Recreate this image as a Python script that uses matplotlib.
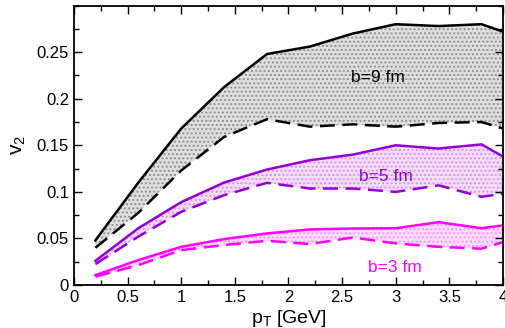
import matplotlib
matplotlib.use("Agg")
import matplotlib.pyplot as plt
from matplotlib.ticker import MultipleLocator

plt.rcParams['font.family'] = ['Liberation Sans', 'DejaVu Sans']
plt.rcParams['hatch.linewidth'] = 0.9

pt = [0.2, 0.6, 1.0, 1.4, 1.8, 2.2, 2.6, 3.0, 3.4, 3.8, 4.0]

b9_solid = [0.048, 0.110, 0.168, 0.2125, 0.248, 0.256, 0.270, 0.280, 0.278, 0.280, 0.272]
b9_dash = [0.040, 0.0775, 0.123, 0.159, 0.178, 0.170, 0.1725, 0.170, 0.174, 0.175, 0.168]
b5_solid = [0.026, 0.061, 0.089, 0.110, 0.124, 0.134, 0.140, 0.150, 0.1465, 0.151, 0.138]
b5_dash = [0.0225, 0.052, 0.0786, 0.0965, 0.1097, 0.1036, 0.1036, 0.100, 0.107, 0.0947, 0.098]
b3_solid = [0.0107, 0.0268, 0.041, 0.0493, 0.0554, 0.0597, 0.0607, 0.061, 0.0675, 0.061, 0.064]
b3_dash = [0.009, 0.0214, 0.0375, 0.0429, 0.0475, 0.044, 0.051, 0.0447, 0.041, 0.039, 0.046]

labels = ["b=9 fm", "b=5 fm", "b=3 fm"]
colors = ["black", "#9400D3", "#FF00FF"]
fills = ["#dedede", "#f4ddfa", "#fddcfd"]
hatchcols = ["#8c8c8c", "#d38ef0", "#ff90ff"]
label_pos = [(2.58, 0.223), (2.66, 0.116), (2.74, 0.0186)]

fig = plt.figure(figsize=(5.05, 3.28), dpi=100)
ax = fig.add_axes([0.1465, 0.131, 0.8495, 0.852])

series = [(b9_solid, b9_dash), (b5_solid, b5_dash), (b3_solid, b3_dash)]
for (s, d), c, fc, hc, lab, lp in zip(series, colors, fills, hatchcols, labels, label_pos):
    ax.fill_between(pt, d, s, facecolor=fc, edgecolor=hc, hatch='....', linewidth=0)
    ax.plot(pt, s, color=c, lw=1.8)
    ax.plot(pt, d, color=c, lw=1.8, dashes=(6, 3))
    ax.text(lp[0], lp[1], lab, color=c, fontsize=12.5, va='center', ha='left')

ax.set_xlim(0, 4)
ax.set_ylim(0, 0.3)
ax.xaxis.set_minor_locator(MultipleLocator(0.25))
ax.yaxis.set_minor_locator(MultipleLocator(0.025))
ax.set_xticks([0, 0.5, 1, 1.5, 2, 2.5, 3, 3.5, 4])
ax.set_xticklabels(["0", "0.5", "1", "1.5", "2", "2.5", "3", "3.5", "4"])
ax.set_yticks([0, 0.05, 0.1, 0.15, 0.2, 0.25])
ax.set_yticklabels(["0", "0.05", "0.1", "0.15", "0.2", "0.25"])
ax.tick_params(which='both', direction='in', top=True, right=True, labelsize=12)
ax.tick_params(which='major', length=6, width=1)
ax.tick_params(which='minor', length=3.5, width=1)
for sp in ax.spines.values():
    sp.set_linewidth(1.3)

ax.set_xlabel(r"p$_\mathregular{T}$ [GeV]", fontsize=14, labelpad=2)
ax.set_ylabel(r"v$_\mathregular{2}$", fontsize=15, labelpad=6)

fig.savefig("out.png", dpi=100)
